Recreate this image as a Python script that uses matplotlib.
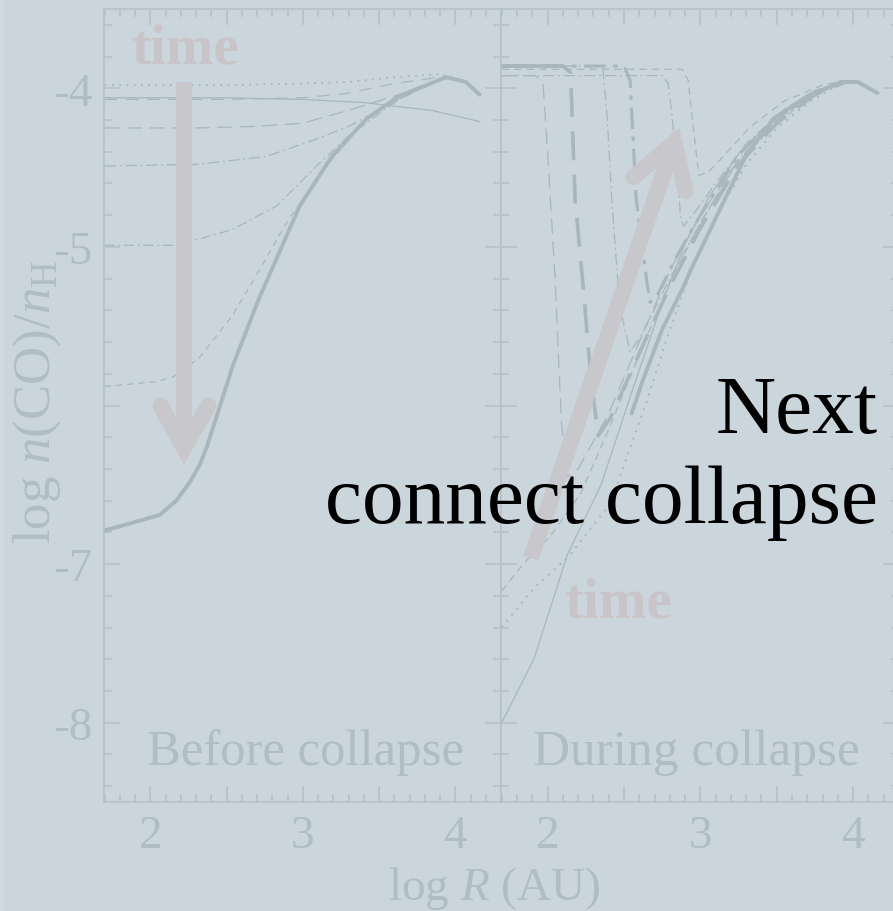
import matplotlib
matplotlib.use("Agg")
import matplotlib.pyplot as plt
from matplotlib.ticker import FixedLocator, FixedFormatter, MultipleLocator
from matplotlib.patches import Rectangle

W, H, DPI = 893, 912, 100

BG = "#cad5dc"
AXC = "#b4c0c7"
LINE = "#a9b6be"
ARROW = "#c8c7cb"
TIMEC = "#c9c4c8"
LABC = "#b1bdc4"
SERIF = "Liberation Serif"

plt.rcParams["font.family"] = [SERIF, "DejaVu Serif"]
plt.rcParams["mathtext.fontset"] = "custom"
plt.rcParams["mathtext.rm"] = SERIF
plt.rcParams["mathtext.it"] = SERIF + ":italic"

# ---- axis ticks ----
x_ticks = [2, 2.5, 3, 3.5, 4]
x_tick_labels = ["2", "", "3", "", "4"]
y_ticks = [-4, -5, -6, -7, -8]
y_tick_labels = ["-4", "-5", "", "-7", "-8"]

# ---- before collapse: log n(CO)/n_H vs log R ----
b_dot_x = [1.70, 2.50, 3.00, 3.30, 3.60, 3.90, 4.05, 4.16]
b_dot_y = [-3.98, -3.98, -3.97, -3.96, -3.93, -3.91, -3.95, -4.04]
b_solid_x = [1.70, 2.50, 3.00, 3.40, 3.85, 4.16]
b_solid_y = [-4.06, -4.06, -4.07, -4.09, -4.14, -4.21]
b_ldash1_x = [1.70, 2.50, 3.00, 3.30, 3.60, 3.90]
b_ldash1_y = [-4.07, -4.07, -4.06, -4.03, -3.97, -3.93]
b_ldash2_x = [1.70, 2.30, 2.70, 3.00, 3.33, 3.63, 3.91]
b_ldash2_y = [-4.25, -4.25, -4.24, -4.22, -4.13, -4.04, -3.94]
b_dashdot1_x = [1.70, 2.30, 2.76, 3.09, 3.30, 3.63, 3.91]
b_dashdot1_y = [-4.49, -4.48, -4.43, -4.32, -4.24, -4.07, -3.94]
b_dashdot2_x = [1.70, 2.15, 2.32, 2.54, 2.83, 3.09, 3.30, 3.63, 3.91]
b_dashdot2_y = [-4.99, -4.99, -4.95, -4.89, -4.74, -4.49, -4.30, -4.07, -3.94]
b_dash_x = [1.70, 2.04, 2.15, 2.32, 2.54, 2.73, 2.91, 3.19, 3.42, 3.63, 3.94]
b_dash_y = [-5.88, -5.85, -5.82, -5.70, -5.43, -5.12, -4.82, -4.45, -4.19, -4.05, -3.93]
b_thick_x = [1.69, 1.88, 2.06, 2.17, 2.26, 2.32, 2.37, 2.54, 2.71, 2.98,
             3.19, 3.42, 3.63, 3.94, 4.07, 4.16]
b_thick_y = [-6.79, -6.74, -6.69, -6.60, -6.48, -6.38, -6.26, -5.75, -5.33, -4.74,
             -4.43, -4.19, -4.05, -3.93, -3.96, -4.04]

# ---- during collapse ----
d_solid_x = [1.70, 1.91, 2.13, 2.35, 2.56, 2.74, 2.90, 3.06, 3.26, 3.48, 3.70, 3.92]
d_solid_y = [-8.00, -7.60, -6.94, -6.50, -5.89, -5.38, -4.98, -4.68, -4.40, -4.20, -4.06, -3.97]
d_dot_x = [1.70, 1.91, 2.13, 2.41, 2.65, 2.78, 2.95, 3.12, 3.30, 3.50, 3.72, 3.92]
d_dot_y = [-7.40, -7.15, -6.96, -6.62, -5.97, -5.58, -5.12, -4.78, -4.48, -4.25, -4.08, -3.97]
d_dash_x = [1.70, 1.84, 2.02, 2.22, 2.40, 2.60, 2.80, 3.00, 3.20, 3.45, 3.70, 3.92]
d_dash_y = [-7.17, -7.00, -6.82, -6.55, -6.15, -5.68, -5.22, -4.85, -4.53, -4.26, -4.07, -3.96]
d_ldash_x = [1.70, 1.92, 1.97, 2.00, 2.05, 2.09, 2.13, 2.20, 2.40, 2.60, 2.80, 3.00,
             3.25, 3.50, 3.75, 3.95]
d_ldash_y = [-3.92, -3.92, -3.97, -4.40, -5.22, -6.10, -6.45, -6.40, -6.05, -5.60,
             -5.15, -4.80, -4.45, -4.20, -4.03, -3.96]
d_thickdash_x = [1.70, 2.10, 2.15, 2.18, 2.23, 2.28, 2.33, 2.41, 2.61, 2.80, 3.00,
                 3.25, 3.50, 3.75, 3.95]
d_thickdash_y = [-3.86, -3.86, -3.90, -4.70, -5.22, -5.79, -6.19, -6.08, -5.65, -5.25,
                 -4.88, -4.48, -4.22, -4.04, -3.96]
d_dashdot_x = [1.70, 2.36, 2.39, 2.42, 2.46, 2.48, 2.54, 2.60, 2.80, 3.00, 3.25,
               3.50, 3.75, 3.95]
d_dashdot_y = [-3.86, -3.86, -4.18, -4.70, -5.22, -5.41, -5.66, -5.58, -5.20, -4.85,
               -4.45, -4.20, -4.03, -3.96]
d_thickdd_x = [1.70, 2.50, 2.54, 2.58, 2.65, 2.67, 2.72, 2.85, 3.00, 3.25, 3.50, 3.75, 3.95]
d_thickdd_y = [-3.86, -3.86, -3.95, -4.70, -5.22, -5.35, -5.30, -5.05, -4.80, -4.42,
               -4.18, -4.02, -3.96]
d_thindd_x = [1.70, 2.75, 2.79, 2.84, 2.87, 2.89, 2.95, 3.10, 3.30, 3.55, 3.80, 3.95]
d_thindd_y = [-3.92, -3.92, -3.97, -4.40, -4.81, -4.87, -4.80, -4.60, -4.35, -4.13,
              -4.00, -3.95]
d_lastdash_x = [1.70, 2.88, 2.92, 2.96, 2.99, 3.05, 3.13, 3.33, 3.55, 3.80, 3.95]
d_lastdash_y = [-3.88, -3.88, -3.95, -4.30, -4.55, -4.53, -4.45, -4.24, -4.08, -3.98, -3.95]
d_thick_x = [2.55, 2.62, 2.75, 2.89, 2.93, 3.05, 3.13, 3.30, 3.48, 3.70, 3.92, 4.03, 4.16]
d_thick_y = [-6.05, -5.85, -5.52, -5.25, -5.16, -4.92, -4.76, -4.42, -4.19, -4.05,
             -3.96, -3.96, -4.03]

fig = plt.figure(figsize=(W / DPI, H / DPI), dpi=DPI, facecolor=BG)
fig.patches.append(Rectangle((0, 0), 4 / W, 1, transform=fig.transFigure,
                             facecolor="#cfd9df", edgecolor="none", zorder=0))


def px(x, y):
    return x / W, 1 - y / H


def setup(ax, show_y):
    ax.set_facecolor(BG)
    ax.set_xlim(1.695, 4.30)
    ax.set_ylim(-8.5, -3.5)
    for s in ax.spines.values():
        s.set_color(AXC)
        s.set_linewidth(1.1)
    ax.xaxis.set_major_locator(FixedLocator(x_ticks))
    ax.xaxis.set_major_formatter(FixedFormatter(x_tick_labels))
    ax.xaxis.set_minor_locator(MultipleLocator(0.1))
    ax.yaxis.set_major_locator(FixedLocator(y_ticks))
    ax.yaxis.set_major_formatter(FixedFormatter(y_tick_labels))
    ax.yaxis.set_minor_locator(MultipleLocator(0.2))
    ax.tick_params(which="both", direction="in", top=True, right=True,
                   color=AXC, width=1.1, labelcolor=LABC, labelsize=34)
    ax.tick_params(which="major", length=11.5)
    ax.tick_params(which="minor", length=5.8)
    ax.tick_params(axis="x", pad=9)
    ax.tick_params(axis="y", pad=8, labelleft=show_y)


axL = fig.add_axes([104 / W, 1 - 803 / H, 397 / W, 793 / H])
axR = fig.add_axes([501 / W, 1 - 803 / H, 398 / W, 793 / H])
setup(axL, True)
setup(axR, False)

thin = dict(color=LINE, lw=0.9)
# before collapse
axL.plot(b_dot_x, b_dot_y, ls=(0, (1, 3)), color=LINE, lw=1.3)
axL.plot(b_solid_x, b_solid_y, ls="-", **thin)
axL.plot(b_ldash1_x, b_ldash1_y, ls=(0, (10, 7)), **thin)
axL.plot(b_ldash2_x, b_ldash2_y, ls=(0, (12, 6)), **thin)
axL.plot(b_dashdot1_x, b_dashdot1_y, ls=(0, (9, 3, 1.5, 3)), **thin)
axL.plot(b_dashdot2_x, b_dashdot2_y, ls=(0, (8, 3, 1.5, 3)), **thin)
axL.plot(b_dash_x, b_dash_y, ls=(0, (5, 4)), **thin)
axL.plot(b_thick_x, b_thick_y, ls="-", color=LINE, lw=2.8, solid_capstyle="round")

# during collapse
axR.plot(d_solid_x, d_solid_y, ls="-", **thin)
axR.plot(d_dot_x, d_dot_y, ls=(0, (1, 3)), color=LINE, lw=1.4)
axR.plot(d_dash_x, d_dash_y, ls=(0, (6, 4)), **thin)
axR.plot(d_ldash_x, d_ldash_y, ls=(0, (12, 6)), **thin)
axR.plot(d_thickdash_x, d_thickdash_y, ls=(0, (8, 4)), color=LINE, lw=2.6)
axR.plot(d_dashdot_x, d_dashdot_y, ls=(0, (9, 3, 1.5, 3)), **thin)
axR.plot(d_thickdd_x, d_thickdd_y, ls=(0, (7, 2.5, 1.5, 2.5)), color=LINE, lw=2.2)
axR.plot(d_thindd_x, d_thindd_y, ls=(0, (9, 3, 1.5, 3)), **thin)
axR.plot(d_lastdash_x, d_lastdash_y, ls=(0, (6, 4)), **thin)
axR.plot(d_thick_x, d_thick_y, ls="-", color=LINE, lw=2.8, solid_capstyle="round")
axR.plot([1.70, 2.08], [-3.86, -3.86], ls="-", color=LINE, lw=2.6)

# time arrows
arrow_w = 11.5


def draw_arrow(ax, tail, vertex, wing1, wing2):
    ax.plot([tail[0], vertex[0]], [tail[1], vertex[1]], color=ARROW, lw=arrow_w,
            solid_capstyle="butt", zorder=5, clip_on=False)
    ax.plot([wing1[0], vertex[0], wing2[0]], [wing1[1], vertex[1], wing2[1]],
            color=ARROW, lw=arrow_w, solid_capstyle="round",
            solid_joinstyle="miter", zorder=5, clip_on=False)


draw_arrow(axL, (2.22, -3.96), (2.22, -6.27), (2.066, -6.0), (2.38, -6.0))
draw_arrow(axR, (1.889, -6.962), (2.830, -4.340), (2.562, -4.560), (2.902, -4.648))

fig.text(*px(185, 63), "time", ha="center", va="baseline", fontsize=41,
         fontweight="bold", color=TIMEC, zorder=6)
fig.text(*px(618, 617), "time", ha="center", va="baseline", fontsize=41,
         fontweight="bold", color=TIMEC, zorder=6)

fig.text(*px(147, 765), "Before collapse", ha="left", va="baseline",
         fontsize=36.5, color=LABC)
fig.text(*px(533, 765), "During collapse", ha="left", va="baseline",
         fontsize=37, color=LABC)

fig.text(*px(494, 900), r"log $R$ (AU)", ha="center", va="baseline",
         fontsize=34, color=LABC)
fig.text(*px(37, 402), r"log $n$(CO)/$n_{\mathrm{H}}$", ha="center", va="center",
         rotation=90, fontsize=38, color=LABC)

fig.text(*px(878, 433), "Next", ha="right", va="baseline", fontsize=60,
         color="black", zorder=10)
fig.text(*px(878, 523), "connect collapse", ha="right", va="baseline",
         fontsize=60, color="black", zorder=10)

fig.savefig("out.png", dpi=DPI, facecolor=BG)
